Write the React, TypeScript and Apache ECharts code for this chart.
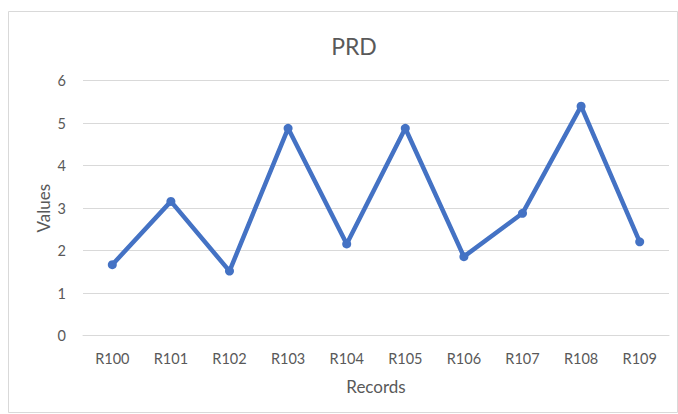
import React, { useEffect, useRef } from "react";
import * as echarts from "echarts";

const categories = ["R100", "R101", "R102", "R103", "R104", "R105", "R106", "R107", "R108", "R109"];
const values = [1.67, 3.16, 1.52, 4.88, 2.16, 4.88, 1.86, 2.88, 5.4, 2.21];
const yTicks = { min: 0, max: 6, interval: 1 };
const titleText = "PRD";
const xTitle = "Records";
const yTitle = "Values";

const FONT = "Lato, 'Open Sans', sans-serif";
const TEXT = "#595959";

export default function App() {
  const ref = useRef<HTMLDivElement>(null);
  useEffect(() => {
    document.body.style.margin = "0";
    const chart = echarts.init(ref.current!, null, { renderer: "svg" });
    chart.setOption({
      animation: false,
      backgroundColor: "#ffffff",
      title: {
        text: titleText,
        left: 349,
        top: 29,
        textAlign: "center",
        textStyle: { fontFamily: FONT, fontSize: 23, fontWeight: "normal", color: TEXT },
      },
      graphic: [
        {
          type: "rect",
          shape: { x: 8.5, y: 11.5, width: 669, height: 401 },
          style: { fill: "none", stroke: "#d9d9d9", lineWidth: 1 },
          silent: true,
        },
      ],
      grid: { left: 83, right: 9, top: 80.7, bottom: 78.3 },
      xAxis: {
        type: "category",
        data: categories,
        boundaryGap: true,
        name: xTitle,
        nameLocation: "middle",
        nameGap: 42,
        nameMoveOverlap: false,
        nameTextStyle: { fontFamily: FONT, fontSize: 17, color: TEXT },
        axisLine: { show: true, lineStyle: { color: "#d9d9d9" } },
        axisTick: { show: false },
        axisLabel: { fontFamily: FONT, fontSize: 14.5, color: TEXT, margin: 15 },
      },
      yAxis: {
        type: "value",
        min: yTicks.min,
        max: yTicks.max,
        interval: yTicks.interval,
        name: yTitle,
        nameLocation: "middle",
        nameGap: 31,
        nameMoveOverlap: false,
        nameTextStyle: { fontFamily: FONT, fontSize: 17, color: TEXT },
        axisLine: { show: false },
        axisTick: { show: false },
        axisLabel: { fontFamily: FONT, fontSize: 14.5, color: TEXT, margin: 17 },
        splitLine: { lineStyle: { color: "#d9d9d9", width: 1 } },
      },
      series: [
        {
          type: "line",
          data: values,
          symbol: "circle",
          symbolSize: 9,
          lineStyle: { color: "#4472C4", width: 4.5 },
          itemStyle: { color: "#4472C4" },
        },
      ],
    });
    return () => chart.dispose();
  }, []);
  return <div ref={ref} style={{ width: 678, height: 414 }} />;
}
